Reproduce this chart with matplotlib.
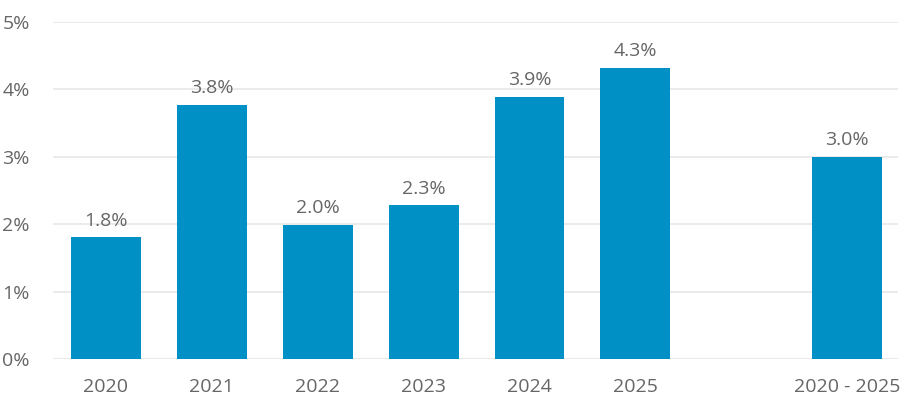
import matplotlib
matplotlib.use("Agg")
import matplotlib.pyplot as plt

categories = ["2020", "2021", "2022", "2023", "2024", "2025", "2020 - 2025"]
values = [1.81, 3.77, 1.99, 2.28, 3.89, 4.32, 3.0]
labels = ["1.8%", "3.8%", "2.0%", "2.3%", "3.9%", "4.3%", "3.0%"]
positions = [0, 1, 2, 3, 4, 5, 7]
yticks = [0, 1, 2, 3, 4, 5]
ytick_labels = ["0%", "1%", "2%", "3%", "4%", "5%"]

plt.rcParams['font.family'] = ['Open Sans', 'DejaVu Sans']
fig = plt.figure(figsize=(9.05, 4.0), dpi=100)
ax = fig.add_axes([53 / 905, 0.1025, 845 / 905, 0.8425])
color = "#0090C6"
text_color = "#666666"
fs = 14

ax.bar(positions, values, width=0.66, color=color, zorder=3)
for x, v, lab in zip(positions, values, labels):
    ax.text(x, v + 0.17, lab, ha="center", va="baseline", fontsize=fs, color=text_color)

ax.set_xlim(-0.5, 7.48)
ax.set_ylim(0, 5)
ax.set_yticks(yticks)
ax.set_yticklabels(ytick_labels)
ax.set_xticks(positions)
ax.set_xticklabels(categories)
ax.tick_params(axis="both", length=0, labelsize=fs, colors=text_color)
ax.tick_params(axis="x", pad=14)
ax.tick_params(axis="y", pad=36.5)
for lab in ax.get_yticklabels():
    lab.set_horizontalalignment("left")
ax.grid(axis="y", color="#e8e8e8", linewidth=1.2, zorder=0)
for s in ax.spines.values():
    s.set_visible(False)

fig.savefig("out.png", dpi=100, facecolor="white")
